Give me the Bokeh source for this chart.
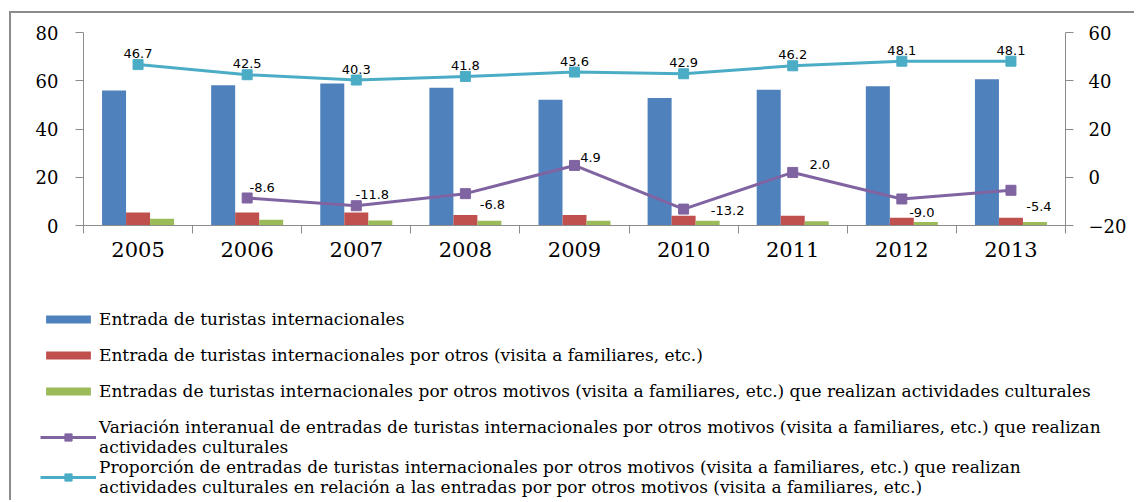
import math
from bokeh.plotting import figure
from bokeh.layouts import column
from bokeh.models import (Range1d, LinearAxis, FixedTicker, ColumnDataSource, Legend,
                          LegendItem, CustomJSTickFormatter)
from bokeh.transform import dodge
from bokeh.core.properties import value
from bokeh.embed import file_html
from bokeh.resources import INLINE

# ---------------- data ----------------
years = ["2005", "2006", "2007", "2008", "2009", "2010", "2011", "2012", "2013"]
entradas = [56.0, 58.1, 58.9, 57.1, 52.1, 52.9, 56.3, 57.7, 60.6]
entradas_otros = [5.4, 5.4, 5.4, 4.4, 4.4, 4.0, 4.0, 3.2, 3.2]
entradas_otros_cult = [2.8, 2.4, 2.1, 2.0, 2.0, 2.0, 1.8, 1.5, 1.5]
variacion = [float("nan"), -8.6, -11.8, -6.8, 4.9, -13.2, 2.0, -9.0, -5.4]
proporcion = [46.7, 42.5, 40.3, 41.8, 43.6, 42.9, 46.2, 48.1, 48.1]
left_ticks = [0, 20, 40, 60, 80]
right_ticks = [-20, 0, 20, 40, 60]

labels = [
    "Entrada de turistas internacionales",
    "Entrada de turistas internacionales por otros (visita a familiares, etc.)",
    "Entradas de turistas internacionales por otros motivos (visita a familiares, etc.) que realizan actividades culturales",
    "Variación interanual de entradas de turistas internacionales por otros motivos (visita a familiares, etc.) que realizan\nactividades culturales",
    "Proporción de entradas de turistas internacionales por otros motivos (visita a familiares, etc.) que realizan\nactividades culturales en relación a las entradas por por otros motivos (visita a familiares, etc.)",
]

# label placement (screen px offsets) for the variation series
var_dx = [0, 15, 16, 27, 16, 44, 27, 20, 28]
var_dy = [0, -10, -11, 11, -8, 1, -8, 14, 16]

BLUE, RED, GREEN, PURPLE, CYAN = "#4F81BD", "#C0504D", "#9BBB59", "#8064A2", "#4BACC6"
GRID = "#8c8c8c"

xc = [i + 0.5 for i in range(len(years))]
src = ColumnDataSource(dict(
    xc=xc, year=years, entradas=entradas, otros=entradas_otros, cult=entradas_otros_cult,
    variacion=variacion, proporcion=proporcion,
    var_lbl=["" if math.isnan(v) else f"{v:.1f}" for v in variacion],
    prop_lbl=[f"{v:.1f}" for v in proporcion],
    var_dx=var_dx, var_dy=var_dy,
))

p = figure(width=1125, height=262, output_backend="svg", toolbar_location=None,
           x_range=Range1d(0, len(years)), y_range=Range1d(0, 80),
           x_axis_type=None, y_axis_type=None,
           min_border_left=72, min_border_right=71, min_border_top=19, min_border_bottom=50)
p.extra_y_ranges = {"right": Range1d(-20, 60)}
p.outline_line_color = None
p.background_fill_color = "white"
p.border_fill_color = "white"
p.styles = {"border-left": "2px solid #8c8c8c", "border-top": "2px solid #8c8c8c",
            "margin-left": "9px", "margin-top": "11px"}

# axes
yl = LinearAxis(ticker=FixedTicker(ticks=left_ticks))
yr = LinearAxis(ticker=FixedTicker(ticks=right_ticks), y_range_name="right")
for ax, so in ((yl, 17), (yr, 15)):
    ax.axis_line_color = GRID
    ax.major_tick_line_color = GRID
    ax.major_tick_out = 8
    ax.major_tick_in = 0
    ax.minor_tick_line_color = None
    ax.major_label_standoff = so
    ax.major_label_text_font = "DejaVu Serif"
    ax.major_label_text_font_size = "18px"
    ax.major_label_text_color = "black"
p.add_layout(yl, "left")
p.add_layout(yr, "right")

xa = LinearAxis(ticker=FixedTicker(ticks=xc, minor_ticks=list(range(len(years) + 1))),
                formatter=CustomJSTickFormatter(args=dict(labels=years),
                                                code="return labels[Math.round(tick - 0.5)];"))
xa.axis_line_color = GRID
xa.major_tick_line_color = None
xa.major_tick_out = 0
xa.major_tick_in = 0
xa.minor_tick_line_color = GRID
xa.minor_tick_out = 8
xa.minor_tick_in = 0
xa.major_label_standoff = 8
xa.major_label_text_font = "DejaVu Serif"
xa.major_label_text_font_size = "21px"
xa.major_label_text_color = "black"
p.add_layout(xa, "below")

p.xgrid.visible = False
p.ygrid.ticker = FixedTicker(ticks=left_ticks)
p.ygrid.grid_line_color = GRID
p.ygrid.grid_line_width = 1

bw = 0.22


def add_series(fig):
    """Draw the five series on a figure; returns the renderers."""
    b1 = fig.vbar(x=dodge("xc", -bw, range=fig.x_range), top="entradas", width=bw, source=src,
                  fill_color=BLUE, line_color=None)
    b2 = fig.vbar(x=dodge("xc", 0, range=fig.x_range), top="otros", width=bw, source=src,
                  fill_color=RED, line_color=None)
    b3 = fig.vbar(x=dodge("xc", bw, range=fig.x_range), top="cult", width=bw, source=src,
                  fill_color=GREEN, line_color=None)
    l1 = fig.line("xc", "variacion", source=src, y_range_name="right", line_color=PURPLE,
                  line_width=3)
    m1 = fig.scatter("xc", "variacion", source=src, y_range_name="right", marker="square",
                     size=10, fill_color=PURPLE, line_color=PURPLE)
    l2 = fig.line("xc", "proporcion", source=src, y_range_name="right", line_color=CYAN,
                  line_width=3)
    m2 = fig.scatter("xc", "proporcion", source=src, y_range_name="right", marker="square",
                     size=10, fill_color=CYAN, line_color=CYAN)
    return b1, b2, b3, l1, m1, l2, m2


add_series(p)

p.text("xc", "variacion", text="var_lbl", source=src, y_range_name="right",
       x_offset="var_dx", y_offset="var_dy", text_align="center", text_baseline="middle",
       text_font=value("DejaVu Sans"), text_font_size="13px", text_color="black")
p.text("xc", "proporcion", text="prop_lbl", source=src, y_range_name="right",
       y_offset=-11, text_align="center", text_baseline="middle",
       text_font=value("DejaVu Sans"), text_font_size="13px", text_color="black")

# ---------------- legend panel (same series, kept out of view; only the legend shows) ------
q = figure(width=1125, height=227, output_backend="svg", toolbar_location=None,
           x_range=Range1d(0, len(years)), y_range=Range1d(1000, 1001),
           x_axis_type=None, y_axis_type=None, min_border=0)
q.extra_y_ranges = {"right": Range1d(1000, 1001)}
q.outline_line_color = None
q.grid.visible = False
q.styles = {"border-left": "2px solid #8c8c8c", "margin-left": "9px"}
if "frame_align" in q.properties():
    q.frame_align = False

r1, r2, r3, r4l, r4m, r5l, r5m = add_series(q)


def style_legend(lg, gh):
    lg.glyph_width = 56
    lg.glyph_height = gh
    lg.label_standoff = 3
    lg.label_text_font = "DejaVu Serif"
    lg.label_text_font_size = "17px"
    lg.label_text_color = "black"
    lg.padding = 0
    lg.margin = 0
    lg.border_line_color = None
    lg.background_fill_alpha = 0
    lg.click_policy = "none"


leg1 = Legend(items=[LegendItem(label=labels[0], renderers=[r1]),
                     LegendItem(label=labels[1], renderers=[r2]),
                     LegendItem(label=labels[2], renderers=[r3])],
              location=(29, 99))
style_legend(leg1, 10)
leg1.label_height = 20
leg1.spacing = 16
leg2 = Legend(items=[LegendItem(label=labels[3], renderers=[r4l, r4m]),
                     LegendItem(label=labels[4], renderers=[r5l, r5m])],
              location=(29, 3))
style_legend(leg2, 18)
leg2.label_height = 18
leg2.spacing = 0
q.add_layout(leg1)
q.add_layout(leg2)

layout = column(p, q, spacing=0)
open("out.html", "w").write(file_html(layout, INLINE))
